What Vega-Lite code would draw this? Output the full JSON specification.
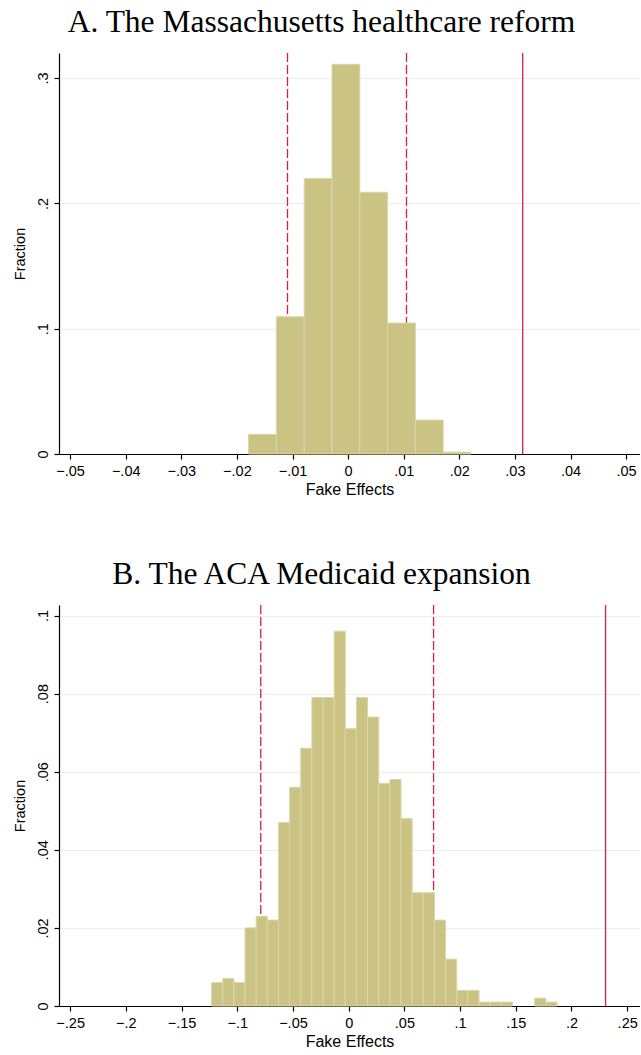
{
  "$schema": "https://vega.github.io/schema/vega-lite/v6.json",
  "padding": {"left": 12, "top": 6, "right": 0, "bottom": 0},
  "spacing": 61,
  "config": {
    "view": {"stroke": null},
    "font": "Liberation Sans",
    "title": {"font": "Liberation Serif", "fontSize": 31.5, "fontWeight": "normal", "color": "#000000", "anchor": "middle", "frame": "group", "dx": -28, "offset": 14},
    "axis": {
      "domainColor": "#000000", "domainWidth": 1.2, "tickColor": "#000000", "tickSize": 5, "tickWidth": 1.2,
      "labelFont": "Liberation Sans", "labelFontSize": 14.5, "labelColor": "#000000", "labelOverlap": false,
      "titleFont": "Liberation Sans", "titleFontSize": 14.5, "titleFontWeight": "normal", "titleColor": "#000000",
      "gridColor": "#e8f0f2", "gridWidth": 1
    }
  },
  "datasets": {
    "ma": [
      {"bin_start": -0.0179, "bin_end": -0.0129, "fraction": 0.0157},
      {"bin_start": -0.0129, "bin_end": -0.0079, "fraction": 0.1095},
      {"bin_start": -0.0079, "bin_end": -0.0029, "fraction": 0.2198},
      {"bin_start": -0.0029, "bin_end": 0.0021, "fraction": 0.311},
      {"bin_start": 0.0021, "bin_end": 0.0071, "fraction": 0.2089},
      {"bin_start": 0.0071, "bin_end": 0.0121, "fraction": 0.1045},
      {"bin_start": 0.0121, "bin_end": 0.0171, "fraction": 0.0271},
      {"bin_start": 0.0171, "bin_end": 0.0221, "fraction": 0.0015}
    ],
    "ma_lines": [
      {"effect": -0.0109, "kind": "dashed"},
      {"effect": 0.0105, "kind": "dashed"},
      {"effect": 0.0314, "kind": "solid"}
    ],
    "aca": [
      {"bin_start": -0.123, "bin_end": -0.113, "fraction": 0.006},
      {"bin_start": -0.113, "bin_end": -0.103, "fraction": 0.007},
      {"bin_start": -0.103, "bin_end": -0.093, "fraction": 0.006},
      {"bin_start": -0.093, "bin_end": -0.083, "fraction": 0.020},
      {"bin_start": -0.083, "bin_end": -0.073, "fraction": 0.023},
      {"bin_start": -0.073, "bin_end": -0.063, "fraction": 0.022},
      {"bin_start": -0.063, "bin_end": -0.053, "fraction": 0.047},
      {"bin_start": -0.053, "bin_end": -0.043, "fraction": 0.056},
      {"bin_start": -0.043, "bin_end": -0.033, "fraction": 0.066},
      {"bin_start": -0.033, "bin_end": -0.023, "fraction": 0.079},
      {"bin_start": -0.023, "bin_end": -0.013, "fraction": 0.079},
      {"bin_start": -0.013, "bin_end": -0.003, "fraction": 0.096},
      {"bin_start": -0.003, "bin_end": 0.007, "fraction": 0.071},
      {"bin_start": 0.007, "bin_end": 0.017, "fraction": 0.079},
      {"bin_start": 0.017, "bin_end": 0.027, "fraction": 0.074},
      {"bin_start": 0.027, "bin_end": 0.037, "fraction": 0.057},
      {"bin_start": 0.037, "bin_end": 0.047, "fraction": 0.058},
      {"bin_start": 0.047, "bin_end": 0.057, "fraction": 0.048},
      {"bin_start": 0.057, "bin_end": 0.067, "fraction": 0.029},
      {"bin_start": 0.067, "bin_end": 0.077, "fraction": 0.029},
      {"bin_start": 0.077, "bin_end": 0.087, "fraction": 0.022},
      {"bin_start": 0.087, "bin_end": 0.097, "fraction": 0.012},
      {"bin_start": 0.097, "bin_end": 0.107, "fraction": 0.004},
      {"bin_start": 0.107, "bin_end": 0.117, "fraction": 0.004},
      {"bin_start": 0.117, "bin_end": 0.127, "fraction": 0.001},
      {"bin_start": 0.127, "bin_end": 0.137, "fraction": 0.001},
      {"bin_start": 0.137, "bin_end": 0.147, "fraction": 0.001},
      {"bin_start": 0.167, "bin_end": 0.177, "fraction": 0.002},
      {"bin_start": 0.177, "bin_end": 0.187, "fraction": 0.001}
    ],
    "aca_lines": [
      {"effect": -0.0789, "kind": "dashed"},
      {"effect": 0.0762, "kind": "dashed"},
      {"effect": 0.2306, "kind": "solid"}
    ]
  },
  "vconcat": [
    {
      "title": {"text": "A. The Massachusetts healthcare reform"},
      "width": 581,
      "height": 401,
      "layer": [
        {
          "data": {"name": "ma_lines"},
          "mark": {"type": "rule", "color": "#d21f4c", "strokeWidth": 1.3},
          "encoding": {
            "x": {"field": "effect", "type": "quantitative", "scale": {"domain": [-0.052, 0.0525], "nice": false, "zero": false}},
            "strokeDash": {"field": "kind", "type": "nominal", "scale": {"domain": ["dashed", "solid"], "range": [[9, 3], [1, 0]]}, "legend": null}
          }
        },
        {
          "data": {"name": "ma"},
          "mark": {"type": "bar", "color": "#cbc383", "stroke": "#dbd6a8", "strokeWidth": 1},
          "encoding": {
            "x": {"field": "bin_start", "type": "quantitative", "title": "Fake Effects",
                  "scale": {"domain": [-0.052, 0.0525], "nice": false, "zero": false},
                  "axis": {"values": [-0.05, -0.04, -0.03, -0.02, -0.01, 0, 0.01, 0.02, 0.03, 0.04, 0.05], "labelExpr": "replace(format(datum.value, '~g'), '0.', '.')", "grid": false, "labelPadding": 5.5, "titlePadding": 3, "titleFontSize": 16, "labelFlush": false}},
            "x2": {"field": "bin_end"},
            "y": {"field": "fraction", "type": "quantitative", "title": "Fraction",
                  "scale": {"domain": [0, 0.32], "nice": false},
                  "axis": {"values": [0, 0.1, 0.2, 0.3], "labelExpr": "replace(format(datum.value, '~g'), '0.', '.')", "grid": true, "labelAngle": -90, "labelAlign": "center", "labelBaseline": "bottom", "labelPadding": 4, "titlePadding": 8}},
            "y2": {"datum": 0}
          }
        }
      ]
    },
    {
      "title": {"text": "B. The ACA Medicaid expansion"},
      "width": 581,
      "height": 401,
      "layer": [
        {
          "data": {"name": "aca_lines"},
          "mark": {"type": "rule", "color": "#d21f4c", "strokeWidth": 1.3},
          "encoding": {
            "x": {"field": "effect", "type": "quantitative", "scale": {"domain": [-0.26, 0.2615], "nice": false, "zero": false}},
            "strokeDash": {"field": "kind", "type": "nominal", "scale": {"domain": ["dashed", "solid"], "range": [[9, 3], [1, 0]]}, "legend": null}
          }
        },
        {
          "data": {"name": "aca"},
          "mark": {"type": "bar", "color": "#cbc383", "stroke": "#dbd6a8", "strokeWidth": 1},
          "encoding": {
            "x": {"field": "bin_start", "type": "quantitative", "title": "Fake Effects",
                  "scale": {"domain": [-0.26, 0.2615], "nice": false, "zero": false},
                  "axis": {"values": [-0.25, -0.2, -0.15, -0.1, -0.05, 0, 0.05, 0.1, 0.15, 0.2, 0.25], "labelExpr": "replace(format(datum.value, '~g'), '0.', '.')", "grid": false, "labelPadding": 5.5, "titlePadding": 3, "titleFontSize": 16, "labelFlush": false}},
            "x2": {"field": "bin_end"},
            "y": {"field": "fraction", "type": "quantitative", "title": "Fraction",
                  "scale": {"domain": [0, 0.1027], "nice": false},
                  "axis": {"values": [0, 0.02, 0.04, 0.06, 0.08, 0.1], "labelExpr": "replace(format(datum.value, '~g'), '0.', '.')", "grid": true, "labelAngle": -90, "labelAlign": "center", "labelBaseline": "bottom", "labelPadding": 4, "titlePadding": 8}},
            "y2": {"datum": 0}
          }
        }
      ]
    }
  ]
}
